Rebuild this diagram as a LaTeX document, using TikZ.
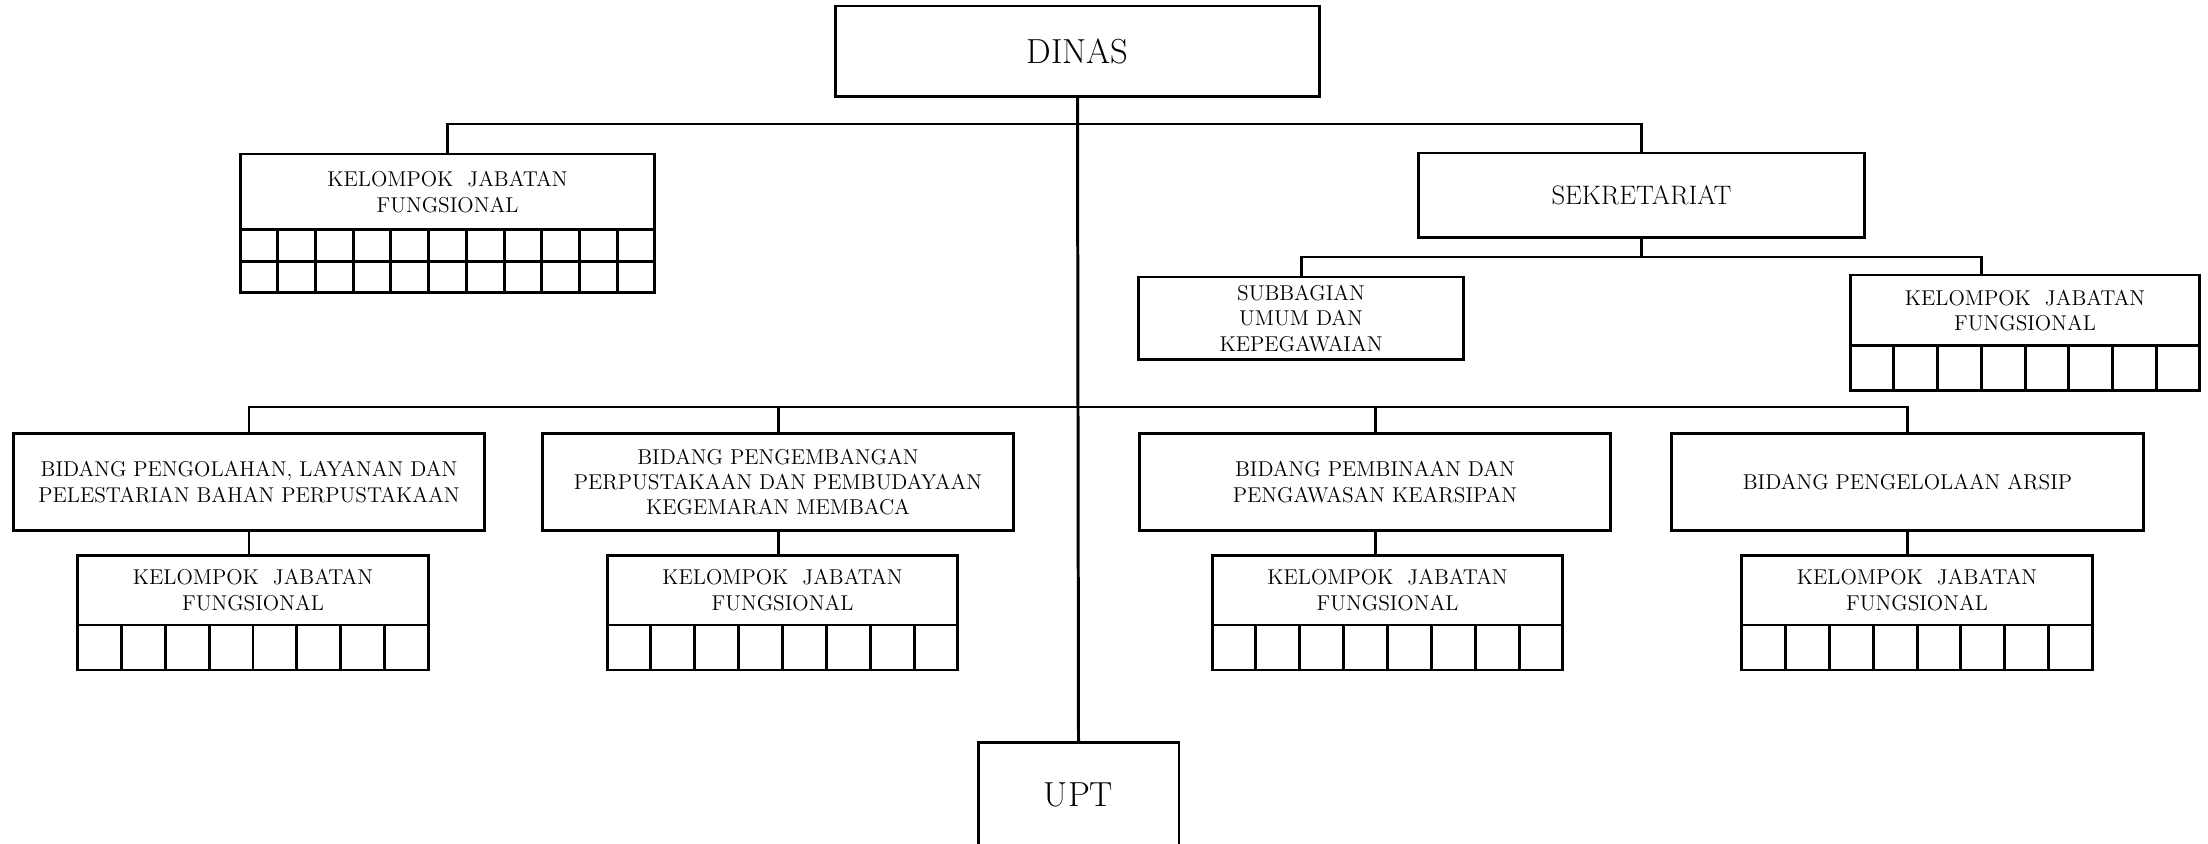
\documentclass[tikz,border=0pt]{standalone}
\usetikzlibrary{calc}

\tikzset{
    org/.style = {draw, line width=1.7pt, inner sep=0pt, outer sep=0pt, align=center,
                  font={\fontsize{12.2}{14.4}\selectfont}},
    besar/.style = {font={\fontsize{19.8}{23}\selectfont}},
    bidang/.style = {org, minimum width=9.44cm, minimum height=1.96cm},
    kjf/.style = {org, minimum width=7.02cm, minimum height=1.4cm},
    garis/.style = {line width=1.7pt},
}

\begin{document}
\begin{tikzpicture}[x=0.02cm, y=-0.02cm]
    \useasboundingbox (0,0) rectangle (2208,844);
    % pimpinan
    \node[org, besar, minimum width=9.7cm, minimum height=1.82cm] (dinas) at (1077.5,51.5) {DINAS};
    \node[org, minimum width=8.3cm, minimum height=1.52cm] (kjf0) at (447.5,192) {KELOMPOK\ \ JABATAN\\FUNGSIONAL};
    \node[org, minimum width=8.94cm, minimum height=1.7cm, font={\fontsize{15.2}{18}\selectfont}] (sekr) at (1641.5,195.5) {SEKRETARIAT};
    \node[org, minimum width=6.52cm, minimum height=1.66cm] (subbag) at (1301,318.5) {SUBBAGIAN\\UMUM DAN\\KEPEGAWAIAN};
    \node[org, minimum width=7.0cm, minimum height=1.42cm] (kjfs) at (2025,310.5) {KELOMPOK\ \ JABATAN\\FUNGSIONAL};
    % bidang
    \node[bidang] (b1) at (249,482) {BIDANG PENGOLAHAN, LAYANAN DAN\\PELESTARIAN BAHAN PERPUSTAKAAN};
    \node[bidang] (b2) at (778,482) {BIDANG PENGEMBANGAN\\PERPUSTAKAAN DAN PEMBUDAYAAN\\KEGEMARAN MEMBACA};
    \node[bidang] (b3) at (1375,482) {BIDANG PEMBINAAN DAN\\PENGAWASAN KEARSIPAN};
    \node[bidang] (b4) at (1907.5,482) {BIDANG PENGELOLAAN ARSIP};
    \node[kjf] (k1) at (253,590) {KELOMPOK\ \ JABATAN\\FUNGSIONAL};
    \node[kjf] (k2) at (782.5,590) {KELOMPOK\ \ JABATAN\\FUNGSIONAL};
    \node[kjf] (k3) at (1387.5,590) {KELOMPOK\ \ JABATAN\\FUNGSIONAL};
    \node[kjf] (k4) at (1917,590) {KELOMPOK\ \ JABATAN\\FUNGSIONAL};
    \node[org, besar, minimum width=4.02cm, minimum height=2.12cm] (upt) at (1078.5,795) {UPT};

    % kotak jabatan fungsional
    \draw[garis] (kjf0.south west) rectangle ($(kjf0.south east)+(0,63)$);
    \draw[garis] ($(kjf0.south west)+(0,31.5)$) -- ++(415,0);
    \foreach \i in {1,...,10}
        \draw[garis] ($(kjf0.south west)!\i/11!(kjf0.south east)$) -- ++(0,63);
    \foreach \n in {k1,k2,k3,k4,kjfs} {
        \draw[garis] (\n.south west) rectangle ($(\n.south east)+(0,45)$);
        \foreach \i in {1,...,7}
            \draw[garis] ($(\n.south west)!\i/8!(\n.south east)$) -- ++(0,45);
    }

    % garis komando
    \coordinate (j1) at (dinas.south |- 0,124);
    \coordinate (j2) at (dinas.south |- 0,407);
    \coordinate (j3) at (sekr.south |- 0,257);
    \coordinate (kjfsin) at (kjfs.north -| 1981,0);
    \draw[garis] (dinas.south) -- (upt.north);
    \draw[garis] (kjf0.north) |- (j1) -| (sekr.north);
    \draw[garis] (sekr.south) -- (j3);
    \draw[garis] (subbag.north) |- (j3) -| (kjfsin);
    \draw[garis] (b1.north) |- (j2) -| (b4.north);
    \draw[garis] (b2.north) -- (b2.north |- j2);
    \draw[garis] (b3.north) -- (b3.north |- j2);
    \draw[garis] (b1.south) -- (b1.south |- k1.north);
    \draw[garis] (b2.south) -- (b2.south |- k2.north);
    \draw[garis] (b3.south) -- (b3.south |- k3.north);
    \draw[garis] (b4.south) -- (b4.south |- k4.north);
\end{tikzpicture}
\end{document}
